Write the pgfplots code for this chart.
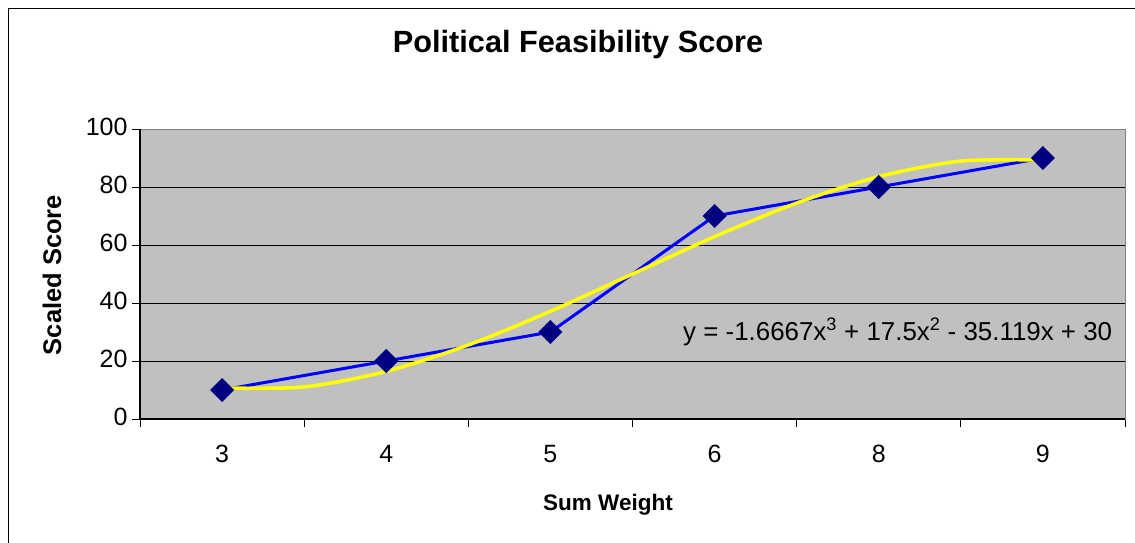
\documentclass[border=0pt]{standalone}
\usepackage{pgfplots}
\pgfplotsset{compat=1.18}
\usepackage{fontspec}
\setmainfont{Liberation Sans}
\definecolor{plotgray}{HTML}{C0C0C0}
\definecolor{framegray}{HTML}{808080}
\definecolor{navy}{HTML}{000080}
\definecolor{xlblue}{HTML}{0000FF}
\definecolor{xlyellow}{HTML}{FFFF00}
\begin{document}
\begin{tikzpicture}[x=1pt,y=1pt]
\useasboundingbox (0,0) rectangle (1135,542);
\draw[black, line width=1pt] (8,-10) -- (8,533) -- (1150,533);
\begin{axis}[
  at={(140pt,123pt)}, anchor=south west,
  scale only axis, width=985pt, height=290pt,
  xmin=0.5, xmax=6.5, ymin=0, ymax=100,
  axis background/.style={fill=plotgray},
  axis line style={draw=framegray, line width=1pt},
  xtick={1,2,3,4,5,6},
  xticklabels={3,4,5,6,8,9},
  minor xtick={0.5,1.5,2.5,3.5,4.5,5.5,6.5},
  ytick={0,20,40,60,80,100},
  xtick pos=bottom, ytick pos=left,
  tick align=outside,
  major x tick style={draw=none},
  minor tick length=8pt, major tick length=8pt,
  tick style={black, line width=0.8pt},
  ymajorgrids, grid style={black, line width=0.8pt},
  /pgf/number format/assume math mode=true,
  tick label style={font=\fontsize{25}{30}\selectfont},
  yticklabel style={xshift=-1pt, yshift=2pt},
  xticklabel style={yshift=-15pt},
  clip=false,
]
\addplot[xlblue, line width=3pt, mark=square*, mark size=7pt,
  mark options={navy, fill=navy, rotate=45, solid}]
  coordinates {(1,10) (2,20) (3,30) (4,70) (5,80) (6,90)};
\addplot[xlyellow, line width=3.5pt, smooth]
  coordinates {(1,10.71) (1.5,11.07) (2,16.43) (2.5,25.53) (3,37.14) (3.5,50.00) (4,62.86) (4.5,74.46) (5,83.57) (5.5,88.93) (6,89.29)};
\draw[black, line width=1.2pt] (rel axis cs:0,1) -- (rel axis cs:0,0) -- (rel axis cs:1,0);
\end{axis}
\node[anchor=base, font=\bfseries\fontsize{30.7}{36}\selectfont, inner sep=0pt] at (578,489) {Political Feasibility Score};
\node[anchor=base, font=\bfseries\fontsize{22.5}{27}\selectfont, inner sep=0pt] at (608,32) {Sum Weight};
\node[anchor=base, rotate=90, font=\bfseries\fontsize{25.5}{30}\selectfont, inner sep=0pt] at (61,267) {Scaled Score};
\node[anchor=base west, font=\fontsize{25.9}{31}\selectfont, inner sep=0pt] at (683,202) {y = -1.6667x\textsuperscript{3} + 17.5x\textsuperscript{2} - 35.119x + 30};
\end{tikzpicture}
\end{document}
